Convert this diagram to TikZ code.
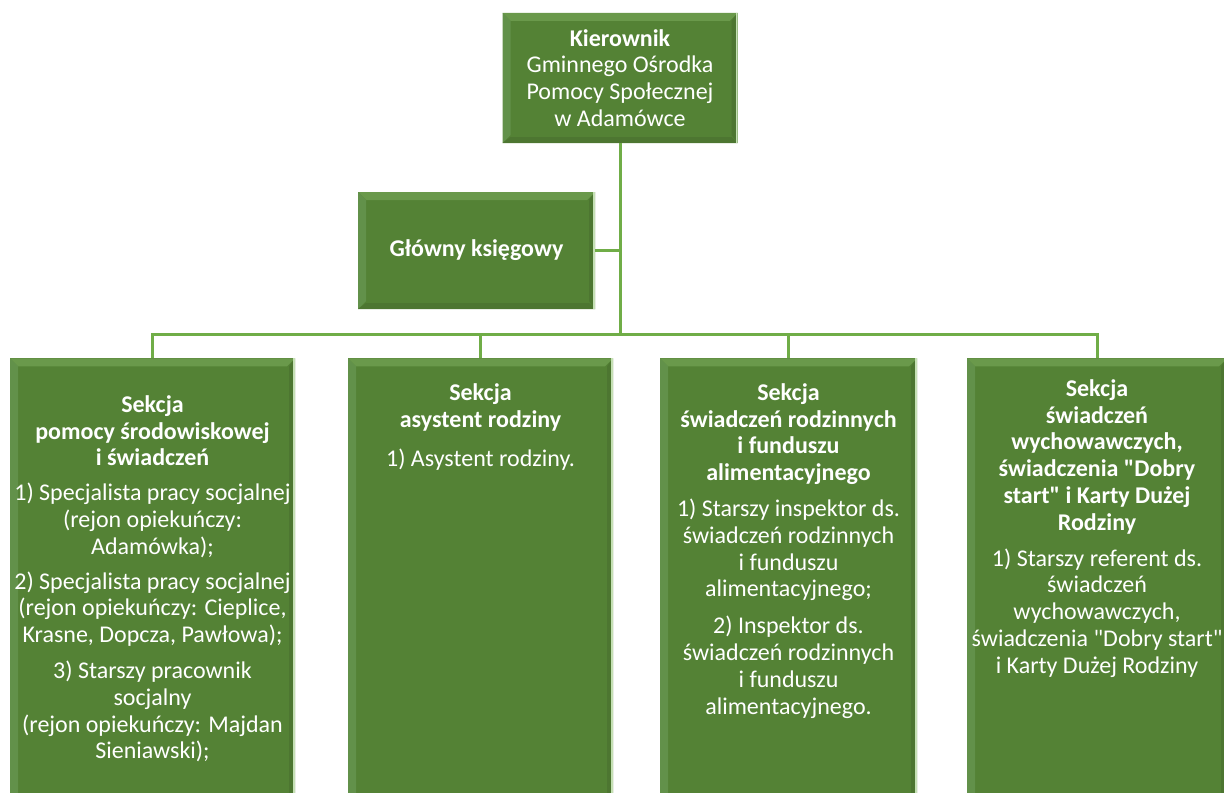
\documentclass[tikz,border=0pt]{standalone}
\usepackage{fontspec}
\setmainfont{Carlito}[Ligatures=TeXOff]
\usetikzlibrary{positioning}

\definecolor{unitgreen}{HTML}{548235}
\definecolor{linkgreen}{HTML}{70AD47}
\definecolor{bevlight}{HTML}{6A994B}
\definecolor{bevside}{HTML}{62914A}
\definecolor{bevdark}{HTML}{4D7631}
\definecolor{bevedge}{HTML}{C5E0B4}

\tikzset{
  bevel/.style={path picture={
    \coordinate (bvnw) at (path picture bounding box.north west);
    \coordinate (bvne) at (path picture bounding box.north east);
    \coordinate (bvsw) at (path picture bounding box.south west);
    \coordinate (bvse) at (path picture bounding box.south east);
    \fill[bevlight] (bvnw) -- (bvne) -- ([xshift=-4pt,yshift=-4pt]bvne) -- ([xshift=4pt,yshift=-4pt]bvnw) -- cycle;
    \fill[bevside] (bvnw) -- ([xshift=4pt,yshift=-4pt]bvnw) -- ([xshift=4pt,yshift=4pt]bvsw) -- (bvsw) -- cycle;
    \fill[bevdark] (bvne) -- ([xshift=-3pt,yshift=-4pt]bvne) -- ([xshift=-3pt,yshift=4pt]bvse) -- (bvse) -- cycle;
    \fill[bevdark] (bvsw) -- ([xshift=4pt,yshift=3pt]bvsw) -- ([xshift=-3pt,yshift=3pt]bvse) -- (bvse) -- cycle;
    \draw[bevedge, line width=0.8pt] ([xshift=-0.4pt]bvne) -- ([xshift=-0.4pt]bvse);
  }},
  unit/.style={rectangle, fill=unitgreen, text=white, inner sep=0pt, align=center, bevel},
  section/.style={unit, anchor=north, minimum height=240pt},
  sectext/.style={text=white, inner sep=0pt, align=center, anchor=north},
  link/.style={draw=linkgreen, line width=1.5pt}
}

\begin{document}
\begin{tikzpicture}[x=0.5pt, y=-0.5pt, font=\fontsize{12}{13.4}\selectfont]
  \clip (0,0) rectangle (1224,792);

  % Head of the centre
  \node[unit, minimum width=117.5pt, minimum height=65pt] (kier) at (620,78)
    {\textbf{Kierownik}\\ Gminnego Ośrodka\\ Pomocy Społecznej\\ w Adamówce};

  % Chief accountant
  \node[unit, minimum width=118.5pt, minimum height=58.5pt] (glowny) at (476.5,250.5)
    {\textbf{Główny księgowy}};

  % Sections
  \node[section, minimum width=142.5pt] (s1) at (152.5,358) {};
  \node[section, minimum width=132.5pt] (s2) at (480.5,358) {};
  \node[section, minimum width=128.5pt] (s3) at (788.5,358) {};
  \node[section, minimum width=130pt] (s4) at (1097,358) {};

  % Section texts
  \node[sectext, below=18.5pt of s1.north] (t1)
    {\textbf{Sekcja}\\ \textbf{pomocy środowiskowej}\\ \textbf{i świadczeń}\\[4pt]
     1) Specjalista pracy socjalnej\\ (rejon opiekuńczy:\\ Adamówka);\\[4pt]
     2) Specjalista pracy socjalnej\\ (rejon opiekuńczy: Cieplice,\\ Krasne, Dopcza, Pawłowa);\\[4.5pt]
     3) Starszy pracownik\\ socjalny\\ (rejon opiekuńczy: Majdan\\ Sieniawski);};
  \node[sectext, below=12.5pt of s2.north] (t2)
    {\textbf{Sekcja}\\ \textbf{asystent rodziny}\\[6.5pt] 1) Asystent rodziny.};
  \node[sectext, below=12.5pt of s3.north] (t3)
    {\textbf{Sekcja}\\ \textbf{świadczeń rodzinnych}\\ \textbf{i funduszu}\\ \textbf{alimentacyjnego}\\[4.5pt]
     1) Starszy inspektor ds.\\ świadczeń rodzinnych\\ i funduszu\\ alimentacyjnego;\\[5pt]
     2) Inspektor ds.\\ świadczeń rodzinnych\\ i funduszu\\ alimentacyjnego.};
  \node[sectext, below=10.5pt of s4.north] (t4)
    {\textbf{Sekcja}\\ \textbf{świadczeń}\\ \textbf{wychowawczych,}\\ \textbf{świadczenia "Dobry}\\ \textbf{start" i Karty Dużej}\\ \textbf{Rodziny}\\[4.5pt]
     1) Starszy referent ds.\\ świadczeń\\ wychowawczych,\\ świadczenia "Dobry start"\\ i Karty Dużej Rodziny};

  % Connectors
  \coordinate (bus) at (620,334);
  \draw[link] (kier) -- (bus);
  \draw[link] (glowny.east) -- (glowny.east -| bus);
  \draw[link] (s1.north) |- (bus) -| (s4.north);
  \draw[link] (s2.north) -- (s2.north |- bus);
  \draw[link] (s3.north) -- (s3.north |- bus);

\end{tikzpicture}
\end{document}
